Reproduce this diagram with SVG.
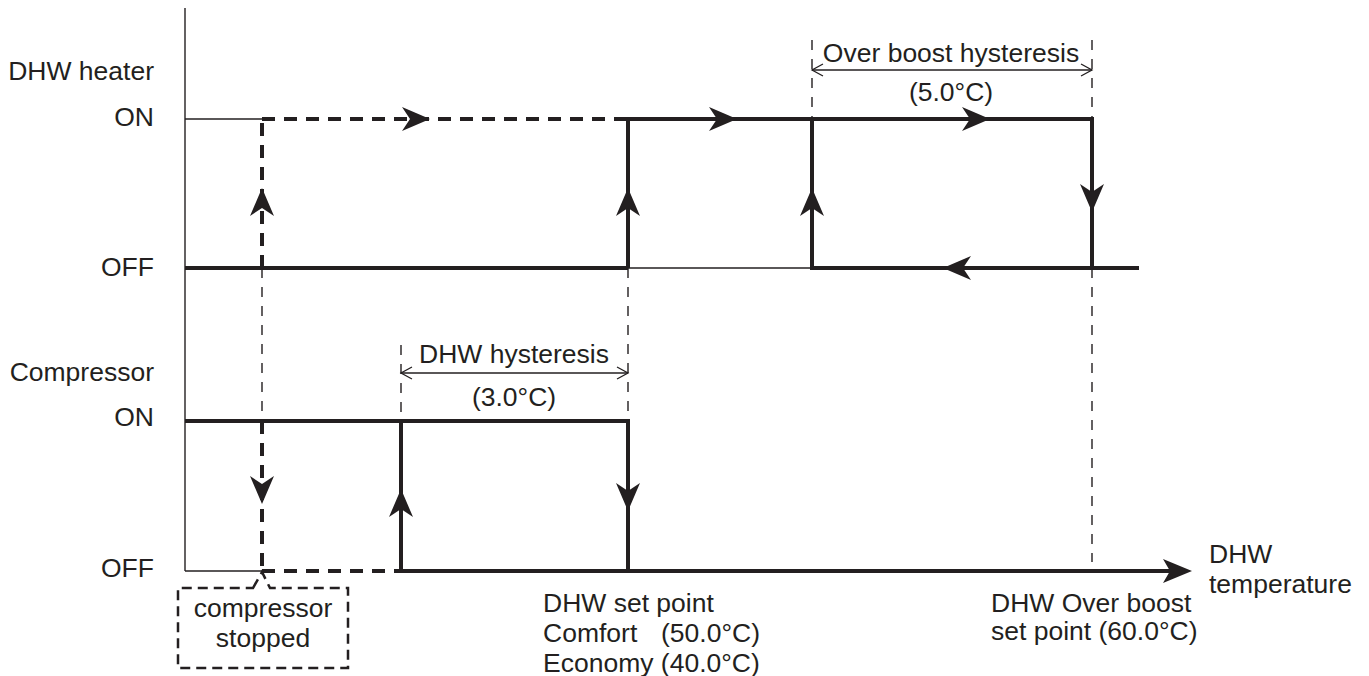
<svg xmlns="http://www.w3.org/2000/svg" xmlns:xlink="http://www.w3.org/1999/xlink" width="1369" height="676" viewBox="0 0 1369 676">
<style>
text{font-family:"Liberation Sans",Arial,sans-serif;font-size:26.5px;fill:#231f20}
.thin{stroke:#231f20;stroke-width:1.4;fill:none}
.thick{stroke:#231f20;stroke-width:4;fill:none;stroke-linecap:butt}
.tdash{stroke:#231f20;stroke-width:4;fill:none;stroke-dasharray:13 9}
.ldash{stroke:#231f20;stroke-width:1.4;fill:none;stroke-dasharray:10 9}
.end{text-anchor:end}
.mid{text-anchor:middle}
</style>
<defs>
<path id="ah" d="M0,0 L-28,-12 L-20,0 L-28,12 Z" fill="#231f20"/>
<path id="ax" d="M0,0 L-29,-12 L-22,0 L-29,12 Z" fill="#231f20"/>
<path id="oa" d="M-11,-6 L0,0 L-11,6" fill="none" stroke="#231f20" stroke-width="1.3"/>
</defs>
<rect width="1369" height="676" fill="#fff"/>
<g id="axes">
<line class="thin" x1="185" y1="8" x2="185" y2="571"/>
<line class="thick" x1="401" y1="571" x2="1170" y2="571"/>
<use xlink:href="#ax" transform="translate(1192,571)"/>
</g>
<g id="labels">
<text class="end" x="154" y="80">DHW heater</text>
<text class="end" x="154" y="126">ON</text>
<text class="end" x="154" y="276">OFF</text>
<text class="end" x="154" y="381">Compressor</text>
<text class="end" x="154" y="426">ON</text>
<text class="end" x="154" y="577">OFF</text>
<text x="1209" y="563">DHW</text>
<text x="1209" y="593">temperature</text>
<text x="543" y="612">DHW set point</text>
<text x="543" y="642">Comfort</text>
<text class="end" x="760" y="642">(50.0°C)</text>
<text x="543" y="672">Economy (40.0°C)</text>
<text x="991" y="612">DHW Over boost</text>
<text x="991" y="640">set point (60.0°C)</text>
</g>
<g id="guides">
<line class="ldash" x1="262" y1="268" x2="262" y2="421"/>
<line class="ldash" x1="628" y1="268" x2="628" y2="421"/>
<line class="ldash" x1="401" y1="345" x2="401" y2="421"/>
<line class="ldash" x1="812" y1="40" x2="812" y2="119"/>
<line class="ldash" x1="1092" y1="40" x2="1092" y2="119"/>
<line class="ldash" x1="1092" y1="268" x2="1092" y2="562"/>
</g>
<g id="dim-overboost">
<line class="thin" x1="812" y1="70" x2="1092" y2="70"/>
<use xlink:href="#oa" transform="translate(812,70) rotate(180)"/>
<use xlink:href="#oa" transform="translate(1092,70)"/>
<text class="mid" x="951" y="62">Over boost hysteresis</text>
<text class="mid" x="951" y="101">(5.0°C)</text>
</g>
<g id="dim-dhw">
<line class="thin" x1="401" y1="373" x2="628" y2="373"/>
<use xlink:href="#oa" transform="translate(401,373) rotate(180)"/>
<use xlink:href="#oa" transform="translate(628,373)"/>
<text class="mid" x="514" y="363">DHW hysteresis</text>
<text class="mid" x="514" y="406">(3.0°C)</text>
</g>
<g id="heater">
<line class="thin" x1="185" y1="119" x2="262" y2="119"/>
<line class="tdash" x1="262" y1="119" x2="628" y2="119"/>
<line class="tdash" x1="262" y1="268" x2="262" y2="121"/>
<use xlink:href="#ah" transform="translate(430,119)"/>
<use xlink:href="#ah" transform="translate(262,188) rotate(-90)"/>
<line class="thick" x1="185" y1="268" x2="628" y2="268"/>
<line class="thin" x1="628" y1="268" x2="812" y2="268"/>
<path class="thick" d="M628,268 V119 H1092 V268"/>
<path class="thick" d="M812,119 V268 H1139"/>
<use xlink:href="#ah" transform="translate(628,188) rotate(-90)"/>
<use xlink:href="#ah" transform="translate(737,119)"/>
<use xlink:href="#ah" transform="translate(812,188) rotate(-90)"/>
<use xlink:href="#ah" transform="translate(990,119)"/>
<use xlink:href="#ah" transform="translate(1092,212) rotate(90)"/>
<use xlink:href="#ah" transform="translate(943,268) rotate(180)"/>
</g>
<g id="compressor">
<line class="thin" x1="185" y1="571" x2="262" y2="571"/>
<line class="tdash" x1="262" y1="571" x2="401" y2="571"/>
<line class="tdash" x1="262" y1="421" x2="262" y2="571"/>
<use xlink:href="#ah" transform="translate(262,504) rotate(90)"/>
<path class="thick" d="M185,421 H628 V571"/>
<line class="thick" x1="401" y1="571" x2="401" y2="421"/>
<use xlink:href="#ah" transform="translate(401,489) rotate(-90)"/>
<use xlink:href="#ah" transform="translate(628,511) rotate(90)"/>
</g>
<g id="callout">
<path d="M253,588 L262,572 L270,588 H348 V668 H178 V588 Z" fill="none" stroke="#231f20" stroke-width="2.5" stroke-dasharray="10 6"/>
<text class="mid" x="263" y="617">compressor</text>
<text class="mid" x="263" y="647">stopped</text>
</g>
</svg>
